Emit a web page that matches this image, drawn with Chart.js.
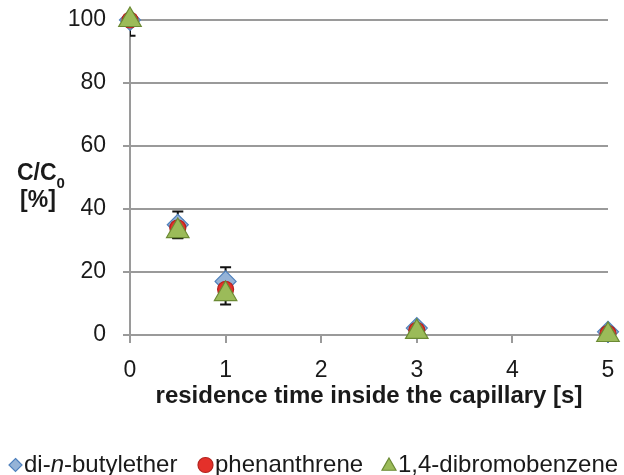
<!DOCTYPE html>
<html>
<head>
<meta charset="utf-8">
<script src="https://cdn.jsdelivr.net/npm/chart.js@4.4.0/dist/chart.umd.min.js"></script>
<style>
  html, body { margin: 0; padding: 0; background: #ffffff; }
  #wrap { width: 624px; height: 475px; }
</style>
</head>
<body>
<div id="wrap"><canvas id="chart" width="624" height="475"></canvas></div>
<script>
// residence time [s]
const times = [0, 0.5, 1, 3, 5];

// C/C0 [%]
const butylether = [100, 35, 17, 2.2, 1];
const phenanthrene = [100, 34, 14.5, 1.5, 0.5];
const dibromobenzene = [100, 33, 13, 1, 0];

// error bar half widths
const butyletherErr = [5, 4.2, 4.5, 0.6, 0.4];
const phenanthreneErr = [0, 2.5, 3, 0.5, 0.3];
const dibromobenzeneErr = [0, 2.3, 3.3, 0.5, 0.2];

const xTicks = [0, 1, 2, 3, 4, 5];
const yTicks = [0, 20, 40, 60, 80, 100];

const FONT = "'Liberation Sans', Arial, sans-serif";
const TEXT = '#1a1a1a';
const GRID = '#9a9a9a';

const series = [
    { name: 'di-n-butylether', values: butylether, err: butyletherErr, shape: 'rectRot', fill: '#95b3d7', stroke: '#4f81bd', r: 10.5, order: 3 },
    { name: 'phenanthrene', values: phenanthrene, err: phenanthreneErr, shape: 'circle', fill: '#e4302a', stroke: '#b3231e', r: 8, order: 2 },
    { name: '1,4-dibromobenzene', values: dibromobenzene, err: dibromobenzeneErr, shape: 'triangle', fill: '#9bbb59', stroke: '#6b8a34', r: 13, order: 1 }
];

// simple marker drawing for the legend
function drawMarker(ctx, shape, x, y, r, fill, stroke) {
    ctx.save();
    ctx.beginPath();
    if (shape === 'circle') {
        ctx.arc(x, y, r, 0, Math.PI * 2);
    } else if (shape === 'rectRot') {
        ctx.moveTo(x, y - r);
        ctx.lineTo(x + r, y);
        ctx.lineTo(x, y + r);
        ctx.lineTo(x - r, y);
        ctx.closePath();
    } else {
        ctx.moveTo(x, y - r);
        ctx.lineTo(x + r, y + r * 0.75);
        ctx.lineTo(x - r, y + r * 0.75);
        ctx.closePath();
    }
    ctx.fillStyle = fill;
    ctx.fill();
    ctx.lineWidth = 1.2;
    ctx.strokeStyle = stroke;
    ctx.stroke();
    ctx.restore();
}

// error bars, drawn under the markers and clipped to the plot area
const errorBars = {
    id: 'errorBars',
    beforeDatasetsDraw(chart) {
        const ctx = chart.ctx;
        const xs = chart.scales.x;
        const ys = chart.scales.y;
        const area = chart.chartArea;
        ctx.save();
        ctx.beginPath();
        ctx.rect(area.left, area.top, area.right - area.left, area.bottom - area.top);
        ctx.clip();
        ctx.strokeStyle = '#111111';
        ctx.lineWidth = 2;
        series.forEach(s => {
            s.values.forEach((v, i) => {
                if (!s.err[i]) return;
                const px = xs.getPixelForValue(times[i]);
                const top = ys.getPixelForValue(v + s.err[i]);
                const bot = ys.getPixelForValue(v - s.err[i]);
                ctx.beginPath();
                ctx.moveTo(px, top);
                ctx.lineTo(px, bot);
                ctx.moveTo(px - 5.5, top);
                ctx.lineTo(px + 5.5, top);
                ctx.moveTo(px - 5.5, bot);
                ctx.lineTo(px + 5.5, bot);
                ctx.stroke();
            });
        });
        ctx.restore();
    }
};

// y axis title with subscript, and the legend row at the bottom
const extraText = {
    id: 'extraText',
    afterDraw(chart) {
        const ctx = chart.ctx;
        ctx.save();
        ctx.fillStyle = TEXT;
        ctx.textBaseline = 'alphabetic';

        // C/C0 [%]
        ctx.font = 'bold 23px ' + FONT;
        ctx.textAlign = 'left';
        const cc = 'C/C';
        const ccW = ctx.measureText(cc).width;
        ctx.fillText(cc, 17, 180);
        ctx.font = 'bold 15px ' + FONT;
        ctx.fillText('0', 17 + ccW, 188);
        ctx.font = 'bold 23px ' + FONT;
        ctx.textAlign = 'center';
        ctx.fillText('[%]', 38, 207);

        // legend
        ctx.textAlign = 'left';
        const legendY = 465;
        const baseY = 472;
        const starts = [9, 198, 382];
        const sizes = [6.5, 7.5, 7];
        series.forEach((s, i) => {
            const mx = starts[i] + sizes[i];
            drawMarker(ctx, s.shape, mx, legendY, sizes[i], s.fill, s.stroke);
            let tx = mx + sizes[i] + 2;
            if (i === 0) {
                ctx.font = '24px ' + FONT;
                ctx.fillText('di-', tx, baseY);
                tx += ctx.measureText('di-').width;
                ctx.font = 'italic 24px ' + FONT;
                ctx.fillText('n', tx, baseY);
                tx += ctx.measureText('n').width;
                ctx.font = '24px ' + FONT;
                ctx.fillText('-butylether', tx, baseY);
            } else {
                ctx.font = '24px ' + FONT;
                ctx.fillText(s.name, tx, baseY);
            }
        });
        ctx.restore();
    }
};

const ctx = document.getElementById('chart').getContext('2d');

const chart = new Chart(ctx, {
    type: 'scatter',
    data: {
        datasets: series.map(s => ({
            label: s.name,
            data: s.values.map((v, i) => ({ x: times[i], y: v })),
            pointStyle: s.shape,
            pointRadius: s.r,
            pointHoverRadius: s.r,
            pointBackgroundColor: s.fill,
            pointBorderColor: s.stroke,
            pointBorderWidth: 1.2,
            showLine: false,
            clip: false,
            order: s.order
        }))
    },
    options: {
        responsive: false,
        animation: false,
        layout: {
            padding: { left: 0, right: 16, top: 20, bottom: 60 }
        },
        plugins: {
            legend: { display: false },
            tooltip: { enabled: false }
        },
        scales: {
            x: {
                type: 'linear',
                min: 0,
                max: 5,
                afterFit: scale => {
                    scale.height = 80;
                    scale.paddingLeft = 0;
                    scale.paddingRight = 0;
                },
                afterBuildTicks: scale => { scale.ticks = xTicks.map(v => ({ value: v })); },
                ticks: {
                    color: TEXT,
                    padding: 14,
                    font: { family: FONT, size: 23 }
                },
                grid: {
                    drawOnChartArea: false,
                    drawTicks: true,
                    tickLength: 8,
                    color: GRID,
                    lineWidth: 2
                },
                border: { display: true, color: GRID, width: 2 },
                title: {
                    display: true,
                    text: 'residence time inside the capillary [s]',
                    color: TEXT,
                    font: { family: FONT, size: 24, weight: 'bold' },
                    padding: { top: 0, bottom: 4 }
                }
            },
            y: {
                min: 0,
                max: 100,
                afterFit: scale => {
                    scale.width = 130;
                    scale.paddingTop = 0;
                    scale.paddingBottom = 0;
                },
                afterBuildTicks: scale => { scale.ticks = yTicks.map(v => ({ value: v })); },
                ticks: {
                    color: TEXT,
                    padding: 17,
                    font: { family: FONT, size: 23 }
                },
                grid: {
                    drawOnChartArea: true,
                    drawTicks: true,
                    tickLength: 7,
                    color: GRID,
                    lineWidth: 2
                },
                border: { display: true, color: GRID, width: 2 }
            }
        }
    },
    plugins: [errorBars, extraText]
});
</script>
</body>
</html>
